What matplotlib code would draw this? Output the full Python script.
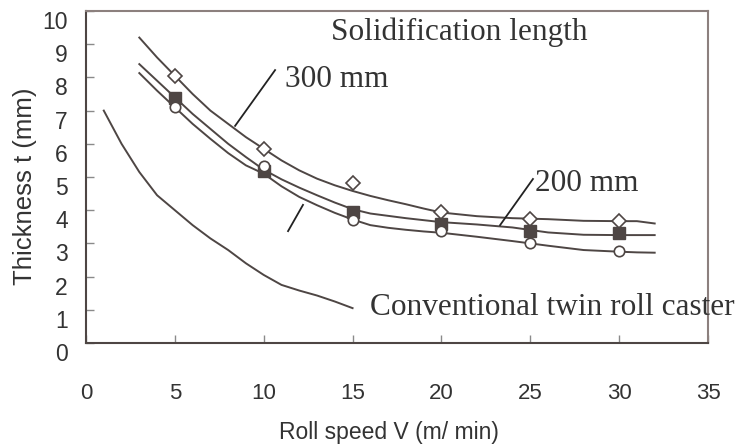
import matplotlib
matplotlib.use("Agg")
import matplotlib.pyplot as plt
from matplotlib.transforms import ScaledTranslation

# measured points (roll speed, m/min)
speeds = [5, 10, 15, 20, 25, 30]
thick_300 = [8.05, 5.84, 4.82, 3.95, 3.73, 3.67]
thick_sq = [7.38, 5.18, 3.95, 3.58, 3.37, 3.30]
thick_circ = [7.10, 5.33, 3.70, 3.37, 3.02, 2.77]

# fitted curves
fit_x = [3, 4, 5, 6, 7, 8, 9, 10, 11, 12, 13, 14, 15, 16, 17, 18, 19, 20,
         22, 24, 26, 28, 30, 31, 32]
fit_300 = [9.2, 8.6, 8.05, 7.5, 7.0, 6.6, 6.2, 5.85, 5.5, 5.2, 4.95, 4.75,
           4.58, 4.43, 4.3, 4.18, 4.05, 3.93, 3.82, 3.76, 3.73, 3.68, 3.67,
           3.67, 3.6]
fit_mid = [8.4, 7.9, 7.4, 6.9, 6.45, 6.0, 5.6, 5.22, 4.93, 4.68, 4.45, 4.23,
           4.03, 3.9, 3.83, 3.76, 3.7, 3.64, 3.57, 3.48, 3.33, 3.26, 3.25,
           3.25, 3.25]
fit_low = [8.13, 7.6, 7.1, 6.6, 6.15, 5.72, 5.35, 5.1, 4.72, 4.4, 4.15, 3.92,
           3.72, 3.55, 3.47, 3.41, 3.36, 3.32, 3.2, 3.07, 2.93, 2.8, 2.75,
           2.73, 2.72]

# conventional twin roll caster
conv_x = [1, 2, 3, 4, 5, 6, 7, 8, 9, 10, 11, 12, 13, 14, 15]
conv_t = [7.0, 6.0, 5.15, 4.45, 4.0, 3.55, 3.15, 2.8, 2.4, 2.05, 1.75, 1.58,
          1.43, 1.25, 1.05]

# leader lines (x pair, y pair)
lead_300 = ([10.64, 8.39], [8.22, 6.54])
lead_200 = ([25.15, 23.3], [4.94, 3.55])
lead_low = ([12.21, 11.37], [4.16, 3.37])

xticks = [0, 5, 10, 15, 20, 25, 30, 35]
yticks = [0, 1, 2, 3, 4, 5, 6, 7, 8, 9, 10]

line_c = "#4e4644"
sans = ["Liberation Sans", "DejaVu Sans"]
serif = ["Liberation Serif", "DejaVu Serif"]

fig = plt.figure(figsize=(7.44, 4.47), dpi=100)
ax = fig.add_axes([86 / 744, 1 - 343 / 447, 622 / 744, 332 / 447])

for ys in (fit_300, fit_mid, fit_low):
    ax.plot(fit_x, ys, color=line_c, lw=1.4, zorder=2)
ax.plot(conv_x, conv_t, color=line_c, lw=1.4, zorder=2)

ax.plot(speeds, thick_300, ls="none", marker="D", ms=7.5, mfc="white",
        mec=line_c, mew=1.2, zorder=3)
ax.plot(speeds, thick_sq, ls="none", marker="s", ms=8, mfc=line_c,
        mec=line_c, zorder=3)
ax.plot(speeds, thick_circ, ls="none", marker="o", ms=7.5, mfc="white",
        mec=line_c, mew=1.2, zorder=4)

for lx, ly in (lead_300, lead_200, lead_low):
    ax.plot(lx, ly, color="#222222", lw=1.3, zorder=2)

txt = dict(family=serif, fontsize=22.5, color="#333333", va="baseline")
ax.text(21.0, 9.13, "Solidification length", ha="center", **txt)
ax.text(11.2, 7.71, "300 mm", ha="left", **txt)
ax.text(25.27, 4.58, "200 mm", ha="left", **txt)
ax.text(15.98, 0.84, "Conventional twin roll caster", ha="left",
        clip_on=False, **txt)

ax.set_xlim(0, 35)
ax.set_ylim(0, 10)
ax.set_xticks(xticks)
ax.set_yticks(yticks)
ax.tick_params(direction="in", length=6, width=1, color="#8a8a8a",
               labelsize=16.5, labelcolor="#333333")
ax.tick_params(axis="x", pad=29, labelsize=16)
ax.tick_params(axis="y", pad=13)
for lab in ax.get_xticklabels() + ax.get_yticklabels():
    lab.set_family(sans)
for lab in ax.get_yticklabels():
    lab.set_transform(lab.get_transform() +
                      ScaledTranslation(0, -0.09, fig.dpi_scale_trans))

for side in ("left", "bottom"):
    ax.spines[side].set_color("#4e4644")
    ax.spines[side].set_linewidth(1.5)
for side in ("top", "right"):
    ax.spines[side].set_color("#8c807e")
    ax.spines[side].set_linewidth(1.5)

fig.text(389 / 744, 1 - 432 / 447, "Roll speed V (m/ min)", family=sans,
         fontsize=16.5, color="#333333", ha="center", va="center")
fig.text(25 / 744, 1 - 186 / 447, "Thickness t (mm)", family=sans,
         fontsize=18.5, color="#333333", ha="center", va="center",
         rotation=90)

fig.savefig("out.png", dpi=100)
